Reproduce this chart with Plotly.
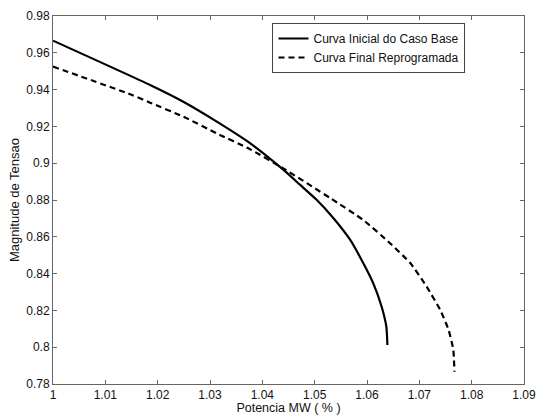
import plotly.graph_objects as go

# Curva Inicial do Caso Base
base_x = [1.000, 1.01855, 1.0249, 1.0313, 1.0377, 1.0440, 1.04723, 1.05042, 1.0536,
          1.0568, 1.0593, 1.0612, 1.0628, 1.0637, 1.0639]
base_y = [0.9666, 0.9425, 0.9334, 0.9226, 0.9108, 0.8965, 0.8882, 0.8800, 0.8701,
          0.8583, 0.8456, 0.8347, 0.8220, 0.8111, 0.8012]

# Curva Final Reprogramada
final_x = [1.000, 1.015, 1.01855, 1.0249, 1.0313, 1.0377, 1.0440, 1.0530, 1.0593,
           1.0644, 1.0683, 1.0714, 1.0740, 1.0756, 1.0765, 1.0767]
final_y = [0.9525, 0.9372, 0.9329, 0.9253, 0.9162, 0.9075, 0.8972, 0.8810, 0.8691,
           0.8565, 0.8456, 0.8329, 0.8202, 0.8093, 0.7985, 0.7867]

x_ticks = [1.00, 1.01, 1.02, 1.03, 1.04, 1.05, 1.06, 1.07, 1.08, 1.09]
x_ticktext = ["1", "1.01", "1.02", "1.03", "1.04", "1.05", "1.06", "1.07", "1.08", "1.09"]
y_ticks = [0.78, 0.80, 0.82, 0.84, 0.86, 0.88, 0.90, 0.92, 0.94, 0.96, 0.98]
y_ticktext = ["0.78", "0.8", "0.82", "0.84", "0.86", "0.88", "0.9", "0.92", "0.94", "0.96", "0.98"]

FONT = "Liberation Sans, Arial, Helvetica, sans-serif"

fig = go.Figure()
fig.add_trace(go.Scatter(x=base_x, y=base_y, mode="lines",
                         name="Curva Inicial do Caso Base",
                         line=dict(color="black", width=2.2, shape="spline", smoothing=0.5)))
fig.add_trace(go.Scatter(x=final_x, y=final_y, mode="lines",
                         name="Curva Final Reprogramada",
                         line=dict(color="black", width=2.2, dash="6px,4px", shape="spline", smoothing=0.5)))

axis_common = dict(showline=True, linecolor="#666", linewidth=1, mirror="ticks",
                   ticks="inside", ticklen=4, tickcolor="#666", showgrid=False,
                   zeroline=False, automargin=False, ticklabeloverflow="allow",
                   tickfont=dict(size=12, color="#111", family=FONT))

fig.update_xaxes(range=[1.0, 1.09], tickvals=x_ticks, ticktext=x_ticktext,
                 title=dict(text="Potencia MW ( % )", font=dict(size=12.5, color="#111", family=FONT),
                            standoff=2),
                 **axis_common)
fig.update_yaxes(range=[0.78, 0.98], tickvals=y_ticks, ticktext=y_ticktext,
                 title=dict(text="Magnitude de Tensao", font=dict(size=13, color="#111", family=FONT),
                            standoff=3),
                 **axis_common)

fig.update_layout(
    width=536, height=415,
    margin=dict(l=53, r=12, t=16, b=31),
    paper_bgcolor="white", plot_bgcolor="white",
    font=dict(family=FONT, size=12, color="#111"),
    legend=dict(x=0.466, y=0.981, xanchor="left", yanchor="top",
                bgcolor="white", bordercolor="#444", borderwidth=1,
                font=dict(size=12, family=FONT, color="#111"),
                tracegroupgap=0, itemwidth=30),
    showlegend=True,
)

# remove the default page margin so the 536x415 figure fills the window exactly
fig.write_html(
    "out.html",
    config={"displayModeBar": False},
    post_script=("document.documentElement.style.margin='0';"
                 "document.body.style.margin='0';"
                 "document.documentElement.style.overflow='hidden';"
                 "document.body.style.overflow='hidden';"),
)
